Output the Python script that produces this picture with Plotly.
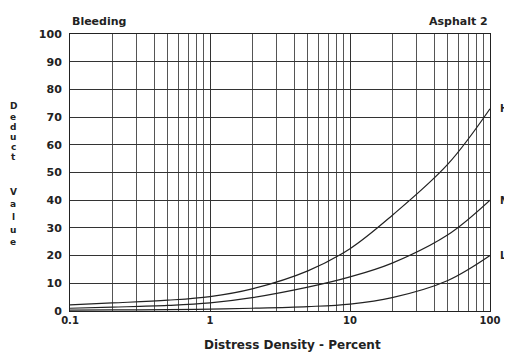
import plotly.graph_objects as go

density = [0.1, 0.2, 0.5, 1, 2, 5, 10, 20, 50, 100]
high = [2.2, 2.9, 3.9, 5.2, 8.0, 14.5, 22.5, 34.5, 53, 73]
medium = [1.0, 1.4, 2.0, 2.9, 4.8, 8.6, 12.3, 17.3, 27.5, 40]
low = [0.3, 0.4, 0.5, 0.7, 1.0, 1.6, 2.5, 4.8, 11, 20]
x_ticks = [0.1, 1, 10, 100]
x_tick_text = ["0.1", "1", "10", "100"]
y_ticks = list(range(0, 101, 10))
series = [("H", high), ("M", medium), ("L", low)]

W, H = 504, 346
L, R, T, B = 62, 19, 26, 43
PW, PH = W - L - R, H - T - B
FAM = "DejaVu Sans"


def px(fx):
    return (fx - L) / PW


def py(fy):
    return (H - B - fy) / PH


fig = go.Figure()
for name, vals in series:
    fig.add_trace(go.Scatter(x=density, y=vals, mode="lines", line=dict(color="#222", width=1.2, shape="spline"),
                             showlegend=False, hoverinfo="skip"))
    fig.add_annotation(x=2, y=vals[-1], xref="x", yref="y", text=name, showarrow=False,
                       xanchor="left", xshift=8, font=dict(size=10, color="#222"))

fnt = dict(family=FAM, size=10, color="#222", weight="bold")
fig.update_layout(
    width=W, height=H,
    margin=dict(l=L, r=R, t=T, b=B),
    paper_bgcolor="white", plot_bgcolor="white",
    font=fnt,
    xaxis=dict(type="log", range=[-1, 2], tickvals=x_ticks, ticktext=x_tick_text,
               showgrid=True, gridcolor="#333", gridwidth=1,
               minor=dict(dtick="D1", showgrid=True, gridcolor="#555", gridwidth=1),
               showline=True, linecolor="#222", linewidth=1, mirror=True,
               ticks="", tickfont=dict(fnt, size=10), zeroline=False),
    yaxis=dict(range=[0, 100], tickvals=y_ticks, showgrid=True, gridcolor="#333", gridwidth=1,
               showline=True, linecolor="#222", linewidth=1, mirror=True,
               ticks="", tickfont=dict(fnt, size=11), zeroline=False, ticklabelstandoff=5),
)
fig.add_annotation(x=0, y=1, xref="paper", yref="paper", text="Bleeding", showarrow=False,
                   xanchor="left", yanchor="bottom", yshift=4, font=dict(size=11))
fig.add_annotation(x=1, y=1, xref="paper", yref="paper", text="Asphalt 2", showarrow=False,
                   xanchor="right", yanchor="bottom", yshift=4, font=dict(size=11))
fig.add_annotation(x=px(286), y=py(337), xref="paper", yref="paper", text="Distress Density - Percent",
                   showarrow=False, xanchor="center", yanchor="middle", font=dict(size=12))

# vertical stacked axis title "Deduct Value"
letters = list("Deduct") + list("Value")
ys = [98, 109, 119, 129, 139, 149, 184, 196, 209, 222, 234]
for ch, fy in zip(letters, ys):
    fig.add_annotation(x=px(5), y=py(fy), xref="paper", yref="paper", text=ch, showarrow=False,
                       xanchor="center", yanchor="middle", font=dict(size=9))
fig.write_html("out.html")
